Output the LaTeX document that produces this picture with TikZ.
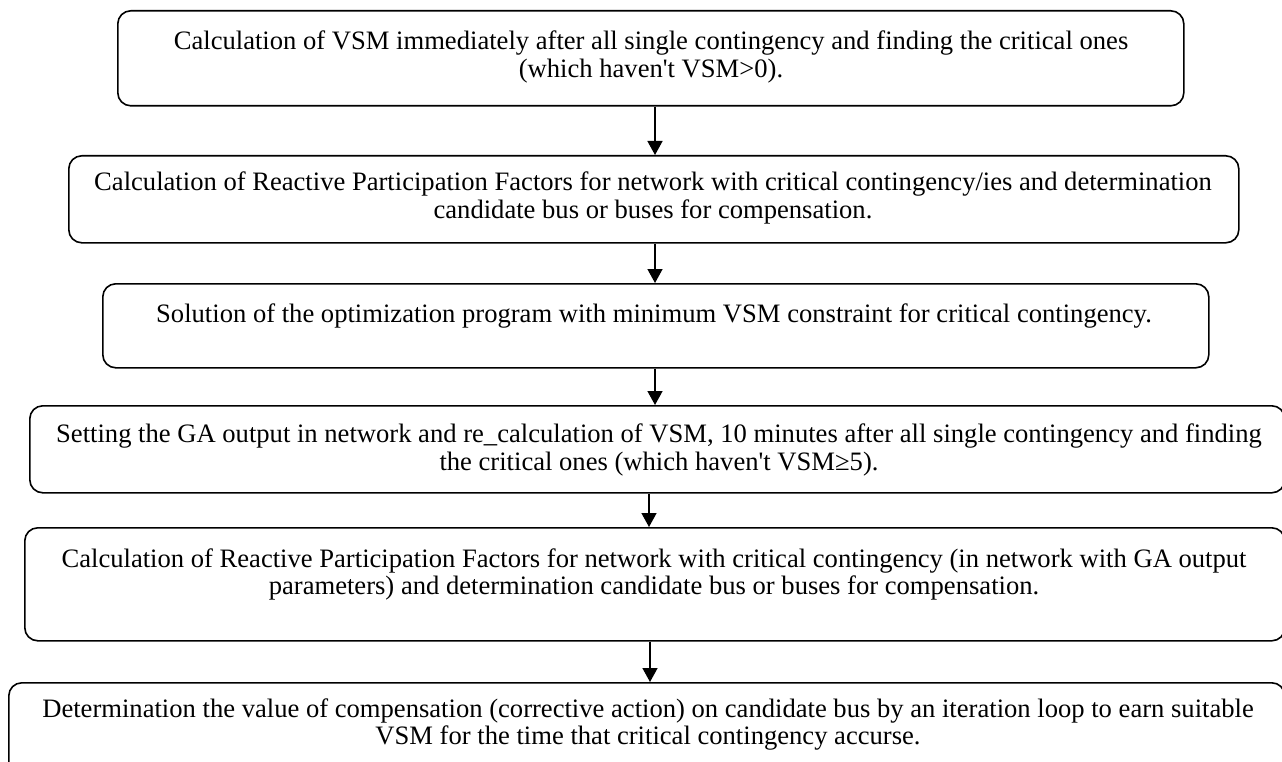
\documentclass[tikz,border=0pt]{standalone}
\usepackage{fontspec}
\setmainfont{Liberation Serif}[Ligatures=TeXOff]
\usetikzlibrary{arrows.meta}
\begin{document}
\begin{tikzpicture}[x=1pt,y=-1pt,
  flowbox/.style={draw, line width=1.6pt, rounded corners=13pt, anchor=north west, inner sep=0pt},
  flowtext/.style={align=center, inner sep=0pt, font=\fontsize{26.6pt}{27.6pt}\selectfont},
  flowarrow/.style={line width=1.5pt, -{Triangle[width=15pt,length=14pt]}}]
\useasboundingbox (0,0) rectangle (1282,762);
\clip (0,0) rectangle (1282,762);

\node[flowbox, minimum width=1066pt, minimum height=95pt] (b1) at (117,10) {};
\node[flowbox, minimum width=1170pt, minimum height=87pt] (b2) at (68,155) {};
\node[flowbox, minimum width=1106pt, minimum height=84pt] (b3) at (102,283) {};
\node[flowbox, minimum width=1255pt, minimum height=87pt] (b4) at (29,405) {};
\node[flowbox, minimum width=1260pt, minimum height=113pt] (b5) at (24,527) {};
\node[flowbox, minimum width=1276pt, minimum height=110pt] (b6) at (8,682) {};

\node[flowtext] (t1) at (651,57) {Calculation of VSM immediately after all single contingency and finding the critical ones\\(which haven't VSM>0).};
\node[flowtext] (t2) at (653,198) {Calculation of Reactive Participation Factors for network with critical contingency/ies and determination\\candidate bus or buses for compensation.};
\node[flowtext] (t3) at (654,316) {Solution of the optimization program with minimum VSM constraint for critical contingency.};
\node[flowtext] (t4) at (659,450) {Setting the GA output in network and re\_calculation of VSM, 10 minutes after all single contingency and finding\\the critical ones (which haven't VSM≥5).};
\node[flowtext] (t5) at (654,574.5) {Calculation of Reactive Participation Factors for network with critical contingency (in network with GA output\\parameters) and determination candidate bus or buses for compensation.};
\node[flowtext] (t6) at (648,724.5) {Determination the value of compensation (corrective action) on candidate bus by an iteration loop to earn suitable\\VSM for the time that critical contingency accurse.};

\coordinate (x1) at (655,0);
\coordinate (x2) at (649,0);
\coordinate (x3) at (650,0);
\draw[flowarrow] (b1.south -| x1) -- (b2.north -| x1);
\draw[flowarrow] (b2.south -| x1) -- (b3.north -| x1);
\draw[flowarrow] (b3.south -| x1) -- (b4.north -| x1);
\draw[flowarrow] (b4.south -| x2) -- (b5.north -| x2);
\draw[flowarrow] (b5.south -| x3) -- (b6.north -| x3);
\end{tikzpicture}
\end{document}
